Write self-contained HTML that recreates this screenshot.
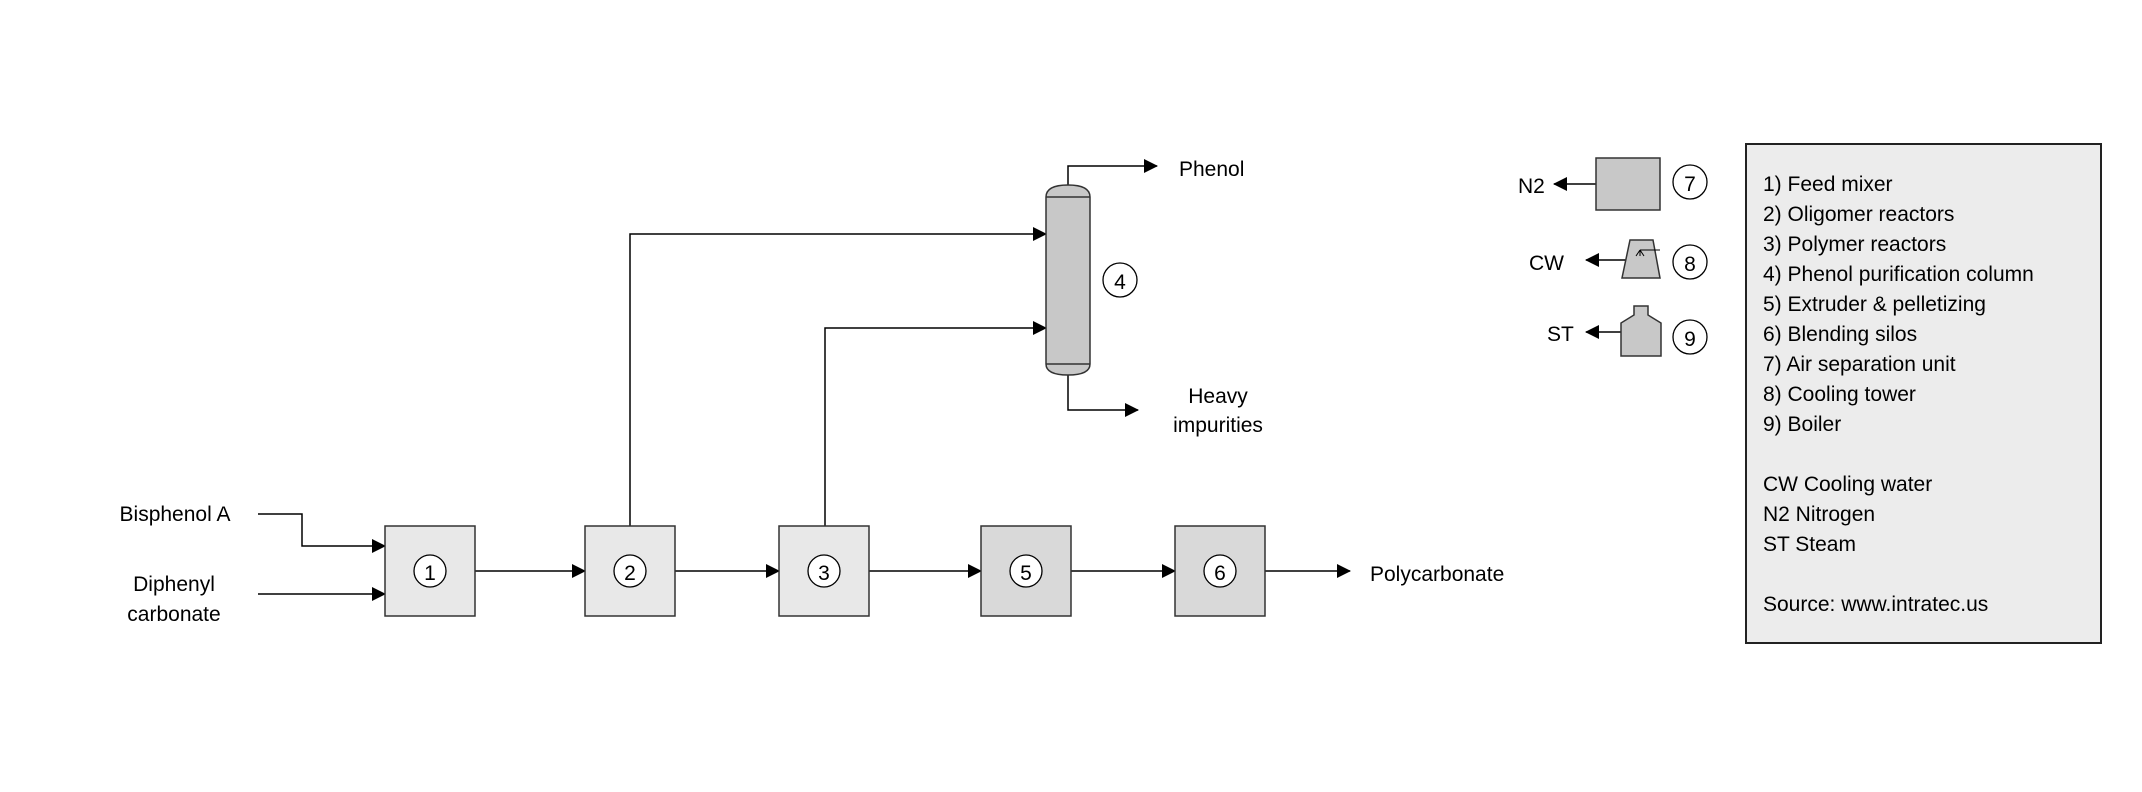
<!DOCTYPE html>
<html><head><meta charset="utf-8"><style>
html,body{margin:0;padding:0;background:#fff}
svg{display:block}
text{font-family:"Liberation Sans",sans-serif;font-size:21px;fill:#000}
</style></head><body>
<svg width="2142" height="792" viewBox="0 0 2142 792" xmlns="http://www.w3.org/2000/svg">
<defs>
<marker id="b" markerWidth="14" markerHeight="14" refX="13" refY="7" orient="auto" markerUnits="userSpaceOnUse">
<path d="M0,0 L14,7 L0,14 z" fill="#000"/></marker>
</defs>
<g stroke="#000" stroke-width="1.5" fill="none">
<polyline points="258,514 302,514 302,546 385,546" marker-end="url(#b)"/>
<line x1="258" y1="594" x2="385" y2="594" marker-end="url(#b)"/>
<line x1="475" y1="571" x2="585" y2="571" marker-end="url(#b)"/>
<line x1="675" y1="571" x2="779" y2="571" marker-end="url(#b)"/>
<line x1="869" y1="571" x2="981" y2="571" marker-end="url(#b)"/>
<line x1="1071" y1="571" x2="1175" y2="571" marker-end="url(#b)"/>
<line x1="1265" y1="571" x2="1350" y2="571" marker-end="url(#b)"/>
<polyline points="630,526 630,234 1046,234" marker-end="url(#b)"/>
<polyline points="825,526 825,328 1046,328" marker-end="url(#b)"/>
<polyline points="1068,185 1068,166 1157,166" marker-end="url(#b)"/>
<polyline points="1068,375 1068,410 1138,410" marker-end="url(#b)"/>
<line x1="1596" y1="184" x2="1554" y2="184" marker-end="url(#b)"/>
<line x1="1626" y1="260" x2="1586" y2="260" marker-end="url(#b)"/>
<line x1="1621" y1="332" x2="1586" y2="332" marker-end="url(#b)"/>
</g>
<g stroke="#333" stroke-width="1.5">
<rect x="385" y="526" width="90" height="90" fill="#e8e8e8"/>
<rect x="585" y="526" width="90" height="90" fill="#e8e8e8"/>
<rect x="779" y="526" width="90" height="90" fill="#e8e8e8"/>
<rect x="981" y="526" width="90" height="90" fill="#d9d9d9"/>
<rect x="1175" y="526" width="90" height="90" fill="#d9d9d9"/>
<path d="M1046,197 Q1046,185 1068,185 Q1090,185 1090,197 L1090,364 Q1090,375 1068,375 Q1046,375 1046,364 Z" fill="#c8c8c8"/>
<line x1="1046" y1="197" x2="1090" y2="197"/>
<line x1="1046" y1="364" x2="1090" y2="364"/>
<rect x="1596" y="158" width="64" height="52" fill="#c8c8c8"/>
<polygon points="1630,240 1653,240 1660,278 1622,278" fill="#c8c8c8"/>
<polygon points="1634,306 1648,306 1648,315 1661,323 1661,356 1621,356 1621,323 1634,315" fill="#c8c8c8"/>
<rect x="1746" y="144" width="355" height="499" fill="#ececec" stroke="#222" stroke-width="2"/>
</g>
<g stroke="#000" stroke-width="1" fill="none">
<line x1="1640" y1="250" x2="1660" y2="250"/>
<path d="M1640,250 l-4,6 M1640,250 l4,6 M1640,250 v6"/>
</g>
<g fill="#fff" stroke="#000" stroke-width="1.3">
<circle cx="430" cy="571" r="16"/><circle cx="630" cy="571" r="16"/><circle cx="824" cy="571" r="16"/>
<circle cx="1026" cy="571" r="16"/><circle cx="1220" cy="571" r="16"/><circle cx="1120" cy="280" r="17"/>
<circle cx="1690" cy="182" r="17"/><circle cx="1690" cy="262" r="17"/><circle cx="1690" cy="337" r="17"/>
</g>
<g text-anchor="middle" font-size="24">
<text x="430" y="580">1</text><text x="630" y="580">2</text><text x="824" y="580">3</text>
<text x="1026" y="580">5</text><text x="1220" y="580">6</text><text x="1120" y="289">4</text>
<text x="1690" y="191">7</text><text x="1690" y="271">8</text><text x="1690" y="346">9</text>
</g>
<g text-anchor="middle" font-size="21">
<text x="175" y="521">Bisphenol A</text>
<text x="174" y="591">Diphenyl</text><text x="174" y="621">carbonate</text>
<text x="1218" y="403">Heavy</text><text x="1218" y="432">impurities</text>
</g>
<text x="1370" y="581">Polycarbonate</text>
<text x="1179" y="176">Phenol</text>
<text x="1518" y="193">N2</text>
<text x="1529" y="270" font-size="23">CW</text>
<text x="1547" y="341" font-size="23">ST</text>
<g font-size="21">
<text x="1763" y="191">1) Feed mixer</text>
<text x="1763" y="221">2) Oligomer reactors</text>
<text x="1763" y="251">3) Polymer reactors</text>
<text x="1763" y="281">4) Phenol purification column</text>
<text x="1763" y="311">5) Extruder &amp; pelletizing</text>
<text x="1763" y="341">6) Blending silos</text>
<text x="1763" y="371">7) Air separation unit</text>
<text x="1763" y="401">8) Cooling tower</text>
<text x="1763" y="431">9) Boiler</text>
<text x="1763" y="491">CW Cooling water</text>
<text x="1763" y="521">N2 Nitrogen</text>
<text x="1763" y="551">ST Steam</text>
<text x="1763" y="611">Source: www.intratec.us</text>
</g>
</svg>
</body></html>
